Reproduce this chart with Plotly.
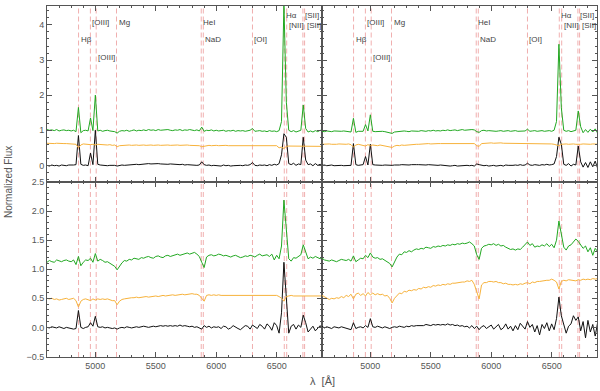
import plotly.graph_objects as go
from plotly.subplots import make_subplots

# ── Data ──────────────────────────────────────────────────────────────────────
# wavelength grid, 4600..6900 A in 20 A steps (116 points)
wave = list(range(4600, 6901, 20))

# top-left panel
tl_green = [
    1.02, 1.00, 1.01, 0.99, 1.02, 0.98, 1.00, 1.01, 0.99, 1.00,
    0.98, 1.00, 0.96, 1.65, 0.93, 0.99, 1.00, 0.98, 1.35, 0.99,
    2.00, 0.98, 1.00, 0.97, 0.99, 1.00, 0.98, 0.97, 0.96, 0.92,
    0.97, 0.99, 0.98, 1.00, 0.97, 0.99, 1.01, 0.98, 1.00, 0.99,
    1.01, 0.99, 1.02, 1.00, 1.01, 0.99, 1.02, 1.00, 1.01, 1.00,
    1.02, 1.00, 0.99, 1.01, 1.00, 1.02, 0.99, 1.01, 1.00, 1.02,
    1.00, 0.99, 1.01, 0.98, 1.09, 0.97, 1.00, 0.99, 1.01, 0.98,
    1.00, 0.98, 0.99, 1.00, 0.97, 0.99, 0.98, 1.00, 0.97, 0.99,
    0.98, 0.99, 0.97, 0.98, 1.00, 1.05, 0.97, 0.98, 0.99, 0.97,
    0.98, 0.96, 0.99, 0.97, 0.98, 0.96, 0.99, 1.25, 4.60, 1.80,
    1.00, 0.96, 0.99, 0.95, 0.98, 1.00, 1.72, 1.05, 0.95, 0.98,
    0.95, 0.99, 0.96, 1.00, 0.97, 0.99,
]
tl_orange = [
    0.63, 0.62, 0.63, 0.62, 0.63, 0.62, 0.63, 0.62, 0.62, 0.61,
    0.62, 0.61, 0.60, 0.50, 0.58, 0.61, 0.60, 0.61, 0.59, 0.60,
    0.58, 0.60, 0.59, 0.60, 0.59, 0.58, 0.59, 0.57, 0.58, 0.53,
    0.56, 0.57, 0.58, 0.57, 0.58, 0.57, 0.58, 0.58, 0.57, 0.58,
    0.58, 0.57, 0.58, 0.58, 0.57, 0.58, 0.58, 0.57, 0.58, 0.58,
    0.58, 0.57, 0.58, 0.57, 0.58, 0.57, 0.58, 0.57, 0.58, 0.57,
    0.57, 0.58, 0.57, 0.56, 0.53, 0.55, 0.57, 0.57, 0.56, 0.57,
    0.57, 0.56, 0.57, 0.56, 0.57, 0.56, 0.56, 0.57, 0.56, 0.56,
    0.56, 0.56, 0.55, 0.56, 0.56, 0.55, 0.56, 0.55, 0.56, 0.55,
    0.56, 0.55, 0.56, 0.55, 0.55, 0.56, 0.50, 0.52, 0.48, 0.54,
    0.55, 0.55, 0.54, 0.55, 0.55, 0.54, 0.53, 0.54, 0.55, 0.54,
    0.55, 0.54, 0.55, 0.54, 0.55, 0.54,
]
tl_black = [
    0.00, -0.02, 0.01, -0.01, 0.00, -0.02, 0.01, 0.00, -0.01, 0.01,
    0.00, 0.01, 0.02, 0.85, 0.03, 0.00, 0.01, -0.01, 0.35, 0.02,
    1.00, 0.03, 0.01, 0.00, 0.01, -0.01, 0.00, 0.01, 0.00, -0.02,
    0.00, 0.01, 0.00, 0.01, 0.02, 0.01, 0.02, 0.03, 0.02, 0.03,
    0.04, 0.03, 0.05, 0.04, 0.05, 0.04, 0.05, 0.04, 0.03, 0.04,
    0.03, 0.04, 0.03, 0.02, 0.03, 0.02, 0.03, 0.01, 0.02, 0.01,
    0.02, 0.01, 0.00, 0.01, 0.10, 0.02, 0.00, 0.01, -0.01, 0.00,
    -0.01, 0.00, -0.02, 0.01, -0.01, 0.00, -0.02, -0.01, 0.00, -0.01,
    0.00, -0.01, 0.01, 0.00, 0.02, 0.08, 0.00, -0.01, 0.01, 0.00,
    0.01, -0.01, 0.02, 0.00, 0.03, 0.01, 0.05, 0.30, 0.90, 0.80,
    0.05, 0.02, 0.06, 0.00, 0.04, 0.02, 0.80, 0.15, 0.02, 0.04,
    -0.01, 0.05, 0.00, 0.03, -0.02, 0.02,
]

# top-right panel
tr_green = [
    0.97, 0.96, 0.98, 0.97, 0.96, 0.98, 0.97, 0.96, 0.97, 0.98,
    0.97, 0.96, 0.95, 1.34, 0.94, 0.97, 0.98, 0.97, 1.16, 0.98,
    1.44, 0.97, 0.96, 0.97, 0.98, 0.97, 0.96, 0.95, 0.94, 0.91,
    0.95, 0.96, 0.97, 0.96, 0.98, 0.97, 0.96, 0.98, 0.97, 0.98,
    0.97, 0.99, 0.98, 0.97, 0.99, 0.98, 1.00, 0.98, 0.99, 0.98,
    1.00, 0.99, 1.01, 0.99, 1.00, 1.01, 0.99, 1.00, 1.02, 1.00,
    1.01, 1.00, 1.02, 1.01, 0.96, 0.94, 0.99, 1.00, 0.98, 0.99,
    0.98, 0.99, 0.97, 0.98, 0.99, 0.97, 0.98, 0.99, 0.97, 0.98,
    0.99, 0.97, 0.98, 0.99, 0.98, 1.03, 0.97, 0.98, 0.99, 0.97,
    0.98, 0.99, 0.97, 0.98, 0.99, 0.97, 1.00, 1.25, 3.45, 1.64,
    1.00, 0.97, 0.99, 0.96, 0.98, 1.00, 1.55, 1.10, 0.93, 1.02,
    0.94, 1.03, 0.95, 1.04, 0.92, 1.00,
]
tr_orange = [
    0.60, 0.61, 0.60, 0.61, 0.60, 0.59, 0.60, 0.61, 0.60, 0.61,
    0.60, 0.61, 0.59, 0.52, 0.58, 0.60, 0.59, 0.58, 0.55, 0.59,
    0.56, 0.58, 0.57, 0.56, 0.58, 0.57, 0.56, 0.55, 0.54, 0.51,
    0.55, 0.57, 0.56, 0.58, 0.57, 0.58, 0.59, 0.58, 0.59, 0.60,
    0.60, 0.61, 0.60, 0.61, 0.62, 0.61, 0.62, 0.61, 0.62, 0.62,
    0.62, 0.63, 0.62, 0.63, 0.63, 0.64, 0.63, 0.64, 0.63, 0.64,
    0.64, 0.63, 0.64, 0.62, 0.56, 0.54, 0.62, 0.63, 0.63, 0.64,
    0.64, 0.63, 0.64, 0.63, 0.64, 0.63, 0.63, 0.62, 0.63, 0.62,
    0.62, 0.63, 0.62, 0.62, 0.61, 0.62, 0.61, 0.62, 0.61, 0.61,
    0.61, 0.62, 0.61, 0.61, 0.62, 0.61, 0.60, 0.59, 0.56, 0.60,
    0.61, 0.61, 0.60, 0.61, 0.61, 0.60, 0.59, 0.60, 0.61, 0.60,
    0.61, 0.60, 0.61, 0.60, 0.61, 0.60,
]
tr_black = [
    0.00, 0.01, -0.01, 0.00, 0.01, -0.01, 0.00, 0.01, 0.00, -0.01,
    0.00, 0.01, 0.00, 0.62, 0.02, 0.00, 0.01, 0.02, 0.25, 0.01,
    0.60, 0.02, 0.01, 0.00, 0.01, 0.00, 0.01, 0.00, -0.01, 0.00,
    0.01, 0.00, 0.01, 0.02, 0.01, 0.02, 0.01, 0.02, 0.01, 0.02,
    0.02, 0.01, 0.02, 0.01, 0.02, 0.01, 0.00, 0.01, 0.00, 0.01,
    0.00, -0.01, 0.00, -0.02, -0.01, 0.00, -0.02, -0.01, 0.00, -0.01,
    0.00, -0.01, 0.00, -0.02, 0.04, 0.02, 0.00, -0.01, 0.00, -0.02,
    -0.01, 0.00, -0.02, -0.01, 0.00, -0.02, 0.01, 0.00, -0.01, 0.00,
    0.01, 0.00, 0.02, 0.00, 0.01, 0.06, 0.01, 0.00, 0.02, 0.01,
    0.00, 0.02, 0.01, 0.03, 0.01, 0.02, 0.04, 0.25, 0.80, 0.60,
    0.03, 0.00, 0.05, -0.02, 0.03, 0.01, 0.55, 0.10, -0.05, 0.08,
    -0.06, 0.10, -0.04, 0.12, -0.08, 0.05,
]

# bottom-left panel
bl_green = [
    1.12, 1.15, 1.13, 1.12, 1.16, 1.14, 1.13, 1.15, 1.16, 1.14,
    1.13, 1.16, 1.08, 1.22, 1.06, 1.12, 1.16, 1.15, 1.19, 1.12,
    1.27, 1.14, 1.17, 1.15, 1.12, 1.13, 1.10, 1.07, 1.05, 0.99,
    1.06, 1.11, 1.15, 1.14, 1.17, 1.16, 1.19, 1.18, 1.17, 1.20,
    1.19, 1.21, 1.22, 1.20, 1.19, 1.22, 1.23, 1.21, 1.20, 1.23,
    1.24, 1.22, 1.23, 1.25, 1.26, 1.24, 1.25, 1.27, 1.28, 1.26,
    1.27, 1.29, 1.26, 1.22, 1.12, 1.03, 1.21, 1.24, 1.25, 1.23,
    1.24, 1.26, 1.25, 1.23, 1.24, 1.22, 1.21, 1.23, 1.24, 1.22,
    1.20, 1.21, 1.23, 1.22, 1.24, 1.23, 1.21, 1.24, 1.26, 1.23,
    1.24, 1.25, 1.22, 1.26, 1.16, 1.24, 1.18, 1.40, 2.19, 1.68,
    1.18, 1.14, 1.20, 1.19, 1.22, 1.25, 1.42, 1.30, 1.18, 1.21,
    1.19, 1.22, 1.20, 1.18, 1.21, 1.20,
]
bl_orange = [
    0.50, 0.49, 0.50, 0.48, 0.49, 0.47, 0.48, 0.49, 0.50, 0.48,
    0.49, 0.50, 0.46, 0.35, 0.45, 0.48, 0.49, 0.48, 0.46, 0.49,
    0.47, 0.49, 0.48, 0.49, 0.48, 0.49, 0.47, 0.46, 0.46, 0.39,
    0.45, 0.48, 0.49, 0.50, 0.50, 0.51, 0.51, 0.52, 0.51, 0.52,
    0.52, 0.53, 0.52, 0.53, 0.53, 0.54, 0.53, 0.54, 0.55, 0.54,
    0.55, 0.55, 0.56, 0.55, 0.56, 0.56, 0.57, 0.56, 0.57, 0.57,
    0.58, 0.57, 0.57, 0.55, 0.50, 0.45, 0.55, 0.56, 0.55, 0.56,
    0.55, 0.56, 0.55, 0.55, 0.54, 0.55, 0.55, 0.54, 0.55, 0.54,
    0.54, 0.55, 0.54, 0.54, 0.55, 0.54, 0.55, 0.54, 0.55, 0.54,
    0.55, 0.54, 0.55, 0.55, 0.54, 0.55, 0.53, 0.50, 0.45, 0.53,
    0.54, 0.55, 0.54, 0.54, 0.55, 0.54, 0.54, 0.55, 0.54, 0.54,
    0.54, 0.55, 0.54, 0.54, 0.55, 0.54,
]
bl_black = [
    0.00, -0.01, 0.01, 0.00, -0.01, 0.01, 0.00, -0.02, 0.00, -0.01,
    -0.02, -0.03, -0.02, 0.29, 0.00, -0.02, 0.00, 0.01, 0.08, 0.02,
    0.19, 0.01, 0.00, 0.01, -0.01, 0.00, -0.01, -0.02, -0.01, -0.03,
    -0.01, 0.00, -0.01, 0.01, 0.00, -0.01, 0.00, 0.01, 0.00, 0.01,
    0.02, 0.01, 0.00, 0.01, 0.02, 0.01, 0.02, 0.03, 0.02, 0.03,
    0.02, 0.03, 0.02, 0.03, 0.02, 0.04, 0.02, 0.03, 0.02, 0.01,
    0.02, 0.00, 0.01, -0.01, -0.03, 0.03, 0.00, 0.02, -0.01, 0.01,
    0.00, 0.01, -0.02, 0.02, 0.01, -0.03, -0.01, 0.03, 0.00, -0.02,
    -0.04, -0.01, 0.03, 0.02, -0.03, 0.04, 0.01, -0.02, 0.05, 0.02,
    -0.03, 0.06, 0.02, -0.05, 0.08, 0.03, -0.10, 0.25, 1.12, 0.45,
    -0.10, 0.02, 0.05, -0.03, 0.04, 0.00, 0.21, 0.08, -0.08, -0.03,
    0.02, -0.06, -0.02, 0.03, -0.04, -0.01,
]

# bottom-right panel
br_green = [
    1.19, 1.16, 1.15, 1.14, 1.16, 1.15, 1.13, 1.15, 1.17, 1.16,
    1.15, 1.17, 1.14, 1.23, 1.13, 1.16, 1.19, 1.18, 1.24, 1.20,
    1.28, 1.21, 1.19, 1.20, 1.17, 1.18, 1.15, 1.12, 1.10, 1.04,
    1.14, 1.21, 1.26, 1.25, 1.30, 1.29, 1.32, 1.30, 1.33, 1.35,
    1.34, 1.36, 1.35, 1.38, 1.37, 1.36, 1.39, 1.38, 1.40, 1.39,
    1.41, 1.40, 1.42, 1.41, 1.43, 1.42, 1.44, 1.43, 1.45, 1.44,
    1.45, 1.47, 1.44, 1.40, 1.25, 1.17, 1.36, 1.40, 1.41, 1.43,
    1.42, 1.44, 1.41, 1.43, 1.40, 1.41, 1.38, 1.36, 1.34, 1.35,
    1.33, 1.35, 1.34, 1.38, 1.42, 1.47, 1.41, 1.44, 1.38, 1.40,
    1.39, 1.42, 1.40, 1.44, 1.39, 1.43, 1.37, 1.50, 1.83, 1.60,
    1.38, 1.33, 1.40, 1.42, 1.47, 1.52, 1.48, 1.42, 1.36, 1.40,
    1.30, 1.37, 1.24, 1.36, 1.31, 1.25,
]
br_orange = [
    0.55, 0.53, 0.50, 0.48, 0.50, 0.49, 0.51, 0.50, 0.53, 0.51,
    0.55, 0.53, 0.57, 0.49, 0.57, 0.59, 0.55, 0.58, 0.54, 0.60,
    0.56, 0.59, 0.56, 0.58, 0.56, 0.57, 0.54, 0.55, 0.50, 0.42,
    0.50, 0.55, 0.59, 0.58, 0.62, 0.61, 0.64, 0.63, 0.65, 0.64,
    0.67, 0.66, 0.69, 0.68, 0.70, 0.69, 0.72, 0.71, 0.73, 0.72,
    0.74, 0.73, 0.75, 0.74, 0.76, 0.76, 0.77, 0.77, 0.78, 0.78,
    0.80, 0.79, 0.81, 0.74, 0.60, 0.49, 0.73, 0.77, 0.77, 0.79,
    0.79, 0.78, 0.79, 0.77, 0.77, 0.75, 0.76, 0.74, 0.74, 0.73,
    0.74, 0.73, 0.75, 0.74, 0.76, 0.77, 0.75, 0.78, 0.77, 0.79,
    0.79, 0.80, 0.80, 0.81, 0.81, 0.83, 0.81, 0.78, 0.66, 0.79,
    0.81, 0.80, 0.82, 0.81, 0.81, 0.80, 0.82, 0.81, 0.83, 0.82,
    0.83, 0.82, 0.84, 0.83, 0.84, 0.83,
]
br_black = [
    0.02, -0.01, 0.01, 0.00, -0.02, 0.01, 0.00, -0.01, 0.01, 0.00,
    -0.02, -0.03, -0.04, 0.08, -0.02, 0.00, 0.01, -0.01, 0.03, 0.00,
    0.15, 0.01, 0.00, 0.02, 0.00, -0.01, 0.01, 0.00, -0.02, 0.00,
    0.01, 0.00, 0.02, 0.01, 0.00, 0.02, 0.01, 0.03, 0.02, 0.03,
    0.03, 0.04, 0.03, 0.05, 0.04, 0.03, 0.05, 0.04, 0.05, 0.04,
    0.05, 0.04, 0.06, 0.04, 0.05, 0.03, 0.04, 0.02, 0.03, 0.01,
    0.02, -0.01, 0.03, -0.02, 0.02, -0.04, 0.01, 0.03, -0.02, 0.01,
    0.04, -0.03, 0.02, 0.05, -0.04, -0.01, 0.06, -0.03, 0.02, -0.06,
    0.03, -0.04, 0.07, 0.02, -0.03, 0.10, 0.00, 0.05, -0.08, 0.03,
    -0.13, 0.05, -0.02, 0.08, -0.06, 0.06, -0.04, 0.15, 0.52, 0.20,
    0.03, -0.10, 0.02, 0.06, 0.20, 0.12, 0.18, -0.06, 0.10, -0.18,
    0.12, -0.08, 0.05, -0.15, 0.08, 0.04,
]

# emission / absorption line markers (rest wavelength, A)
line_waves = [4861, 4959, 5007, 5175, 5876, 5893, 6300, 6563, 6583, 6717, 6731]
# labels shown in the upper panels: text, wavelength, height
label_text = ["Hβ", "[OIII]", "[OIII]", "Mg", "HeI", "NaD", "[OI]", "Hα", "[NII]", "[SII]", "[SII]"]
label_wave = [4861, 4959, 5007, 5175, 5876, 5893, 6300, 6563, 6583, 6717, 6731]
label_y = [3.59, 4.06, 3.08, 4.06, 4.06, 3.59, 3.59, 4.26, 3.98, 4.26, 3.98]

x_ticks = [5000, 5500, 6000, 6500]

# ── Style ─────────────────────────────────────────────────────────────────────
GREEN = "#22a822"
ORANGE = "#f7b23b"
BLACK = "#111111"
MARKER = "rgba(228,110,110,0.55)"
AXIS = "#555555"
FONT = "Liberation Sans, Arial, sans-serif"

X_RANGE = [4600, 6875]
TOP_RANGE = [-0.46, 4.54]
BOT_RANGE = [-0.51, 2.51]

fig = make_subplots(rows=2, cols=2, horizontal_spacing=0, vertical_spacing=0)

panels = [
    (1, 1, tl_green, tl_orange, tl_black),
    (1, 2, tr_green, tr_orange, tr_black),
    (2, 1, bl_green, bl_orange, bl_black),
    (2, 2, br_green, br_orange, br_black),
]

for row, col, g, o, k in panels:
    for ys, c in ((k, BLACK), (o, ORANGE), (g, GREEN)):
        fig.add_trace(go.Scatter(
            x=wave, y=ys, mode="lines",
            line=dict(color=c, width=1),
            showlegend=False, hoverinfo="skip",
        ), row=row, col=col)
    yr = TOP_RANGE if row == 1 else BOT_RANGE
    for lw in line_waves:
        fig.add_shape(
            type="line", x0=lw, x1=lw, y0=yr[0], y1=yr[1],
            line=dict(color=MARKER, width=1, dash="5px,3px"),
            layer="below", row=row, col=col,
        )
    if row == 1:
        for t, lx, ly in zip(label_text, label_wave, label_y):
            fig.add_annotation(
                text=t, x=lx, y=ly, xanchor="left", yanchor="middle",
                showarrow=False, font=dict(size=8, color="#444444", family=FONT),
                row=row, col=col,
            )

axis_common = dict(
    showline=True, linecolor=AXIS, linewidth=1, mirror="allticks",
    ticks="inside", ticklen=5, tickcolor=AXIS, showgrid=False, zeroline=False,
    tickfont=dict(size=9, color=AXIS, family=FONT),
)

for row in (1, 2):
    for col in (1, 2):
        fig.update_xaxes(
            range=X_RANGE, tickvals=x_ticks, showticklabels=(row == 2),
            minor=dict(ticks="inside", ticklen=2, dtick=100, tick0=4600, tickcolor=AXIS),
            row=row, col=col, **axis_common,
        )
        if row == 1:
            fig.update_yaxes(
                range=TOP_RANGE, tickvals=[0, 1, 2, 3, 4], showticklabels=(col == 1),
                minor=dict(ticks="inside", ticklen=2, dtick=0.2, tick0=0, tickcolor=AXIS),
                row=row, col=col, **axis_common,
            )
        else:
            fig.update_yaxes(
                range=BOT_RANGE, tickvals=[-0.5, 0.0, 0.5, 1.0, 1.5, 2.0, 2.5],
                ticktext=["−0.5", "0.0", "0.5", "1.0", "1.5", "2.0", "2.5"],
                showticklabels=(col == 1),
                minor=dict(ticks="inside", ticklen=2, dtick=0.1, tick0=0, tickcolor=AXIS),
                row=row, col=col, **axis_common,
            )

fig.add_annotation(
    text="Normalized Flux", xref="paper", yref="paper", x=-0.07, y=0.5,
    textangle=-90, showarrow=False, xanchor="center", yanchor="middle",
    font=dict(size=10, color=AXIS, family=FONT),
)
fig.add_annotation(
    text="λ  [Å]", xref="paper", yref="paper", x=0.5, y=-0.068,
    showarrow=False, xanchor="center", yanchor="middle",
    font=dict(size=11, color=AXIS, family=FONT),
)

fig.update_layout(
    width=600, height=391,
    margin=dict(l=47, r=3, t=2, b=34),
    plot_bgcolor="white", paper_bgcolor="white",
    font=dict(family=FONT, color=AXIS),
)

# drop the default page margin so the figure sits at the window's corner
fig.write_html(
    "out.html",
    config={"displayModeBar": False},
    post_script="document.body.style.margin='0px';",
)
